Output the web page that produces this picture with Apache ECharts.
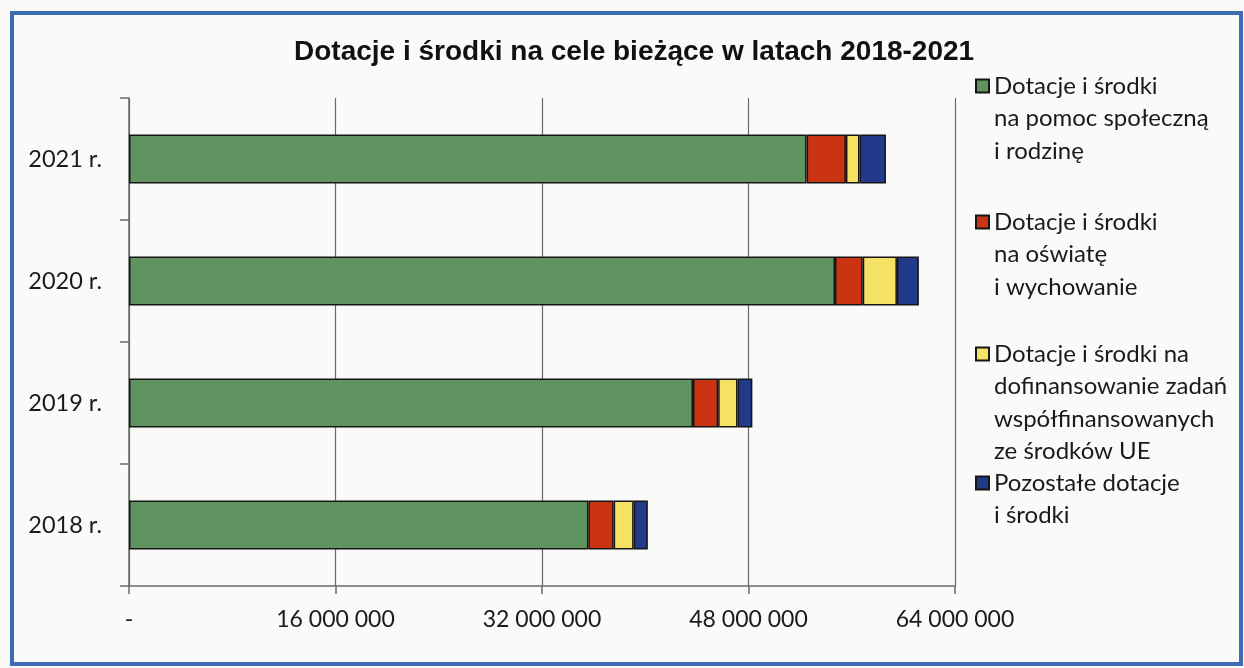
<!DOCTYPE html>
<html>
<head>
<meta charset="utf-8">
<script src="https://cdn.jsdelivr.net/npm/echarts@6/dist/echarts.min.js"></script>
<style>
html,body{margin:0;padding:0;background:#fafaf8;}
#c{width:1244px;height:668px;}
</style>
</head>
<body>
<div id="c"></div>
<script>
const titleText = 'Dotacje i środki na cele bieżące w latach 2018-2021';
const categories = ['2018 r.', '2019 r.', '2020 r.', '2021 r.'];
const seriesNames = [
  'Dotacje i środki\nna pomoc społeczną\ni rodzinę',
  'Dotacje i środki\nna oświatę\ni wychowanie',
  'Dotacje i środki na\ndofinansowanie zadań\nwspółfinansowanych\nze środków UE',
  'Pozostałe dotacje\ni środki'
];
const pomocSpoleczna = [35600000, 43700000, 54700000, 52500000];
const oswiata = [1950000, 1950000, 2150000, 3050000];
const dofinansowanieUE = [1550000, 1500000, 2650000, 1050000];
const pozostale = [1100000, 1150000, 1700000, 2050000];
const xTicks = { min: 0, max: 64000000, interval: 16000000 };
const colors = ['#5f9460', '#cb3412', '#f5e264', '#213a8a'];

const seriesData = [pomocSpoleczna, oswiata, dofinansowanieUE, pozostale];
const LH = 32.5;
const iconCenters = [86, 222, 354, 483];

const fmt = v => v === 0 ? '-' : String(v).replace(/\B(?=(\d{3})+(?!\d))/g, ' ');

const legends = seriesNames.map((name, i) => {
  const n = name.split('\n').length;
  return {
    data: [name],
    orient: 'vertical',
    left: 975,
    top: iconCenters[i] - (2 * n - 1) * LH / 2,
    padding: 0,
    itemWidth: 13,
    itemHeight: 13,
    itemGap: 0,
    icon: 'rect',
    selectedMode: false,
    formatter: nm => '\n'.repeat(n - 1) + nm,
    textStyle: {
      fontFamily: 'Lato',
      fontSize: 24,
      color: '#1a1a1a',
      lineHeight: LH
    }
  };
});

const chart = echarts.init(document.getElementById('c'));
chart.setOption({
  backgroundColor: '#fafaf8',
  animation: false,
  color: colors,
  title: {
    text: titleText,
    left: 294,
    top: 38,
    padding: 0,
    textStyle: { fontFamily: 'Liberation Sans', fontWeight: 'bold', fontSize: 28, color: '#111' }
  },
  legend: legends,
  grid: { left: 129, right: 289, top: 98, bottom: 82, containLabel: false },
  xAxis: {
    type: 'value',
    min: xTicks.min,
    max: xTicks.max,
    interval: xTicks.interval,
    axisLine: { show: true, lineStyle: { color: '#6a6a6a', width: 1.5 } },
    axisTick: { show: true, length: 8, lineStyle: { color: '#6a6a6a', width: 1.5 } },
    splitLine: { show: true, lineStyle: { color: '#6a6a6a', width: 1.2 } },
    axisLabel: { formatter: fmt, fontFamily: 'Lato', fontSize: 23, color: '#1a1a1a', margin: 22 }
  },
  yAxis: {
    type: 'category',
    data: categories,
    axisLine: { show: true, lineStyle: { color: '#6a6a6a', width: 1.5 } },
    axisTick: { show: true, length: 9, lineStyle: { color: '#6a6a6a', width: 1.5 } },
    axisLabel: { fontFamily: 'Lato', fontSize: 23.5, color: '#1a1a1a', margin: 27 }
  },
  series: seriesData.map((d, i) => ({
    type: 'bar',
    name: seriesNames[i],
    stack: 'total',
    barWidth: '40%',
    data: d,
    itemStyle: { borderColor: '#151515', borderWidth: 1.5 }
  })),
  graphic: [{
    type: 'rect',
    silent: true,
    shape: { x: 12, y: 13, width: 1229, height: 651 },
    style: { fill: 'none', stroke: '#3d6db0', lineWidth: 4 }
  }]
});
</script>
</body>
</html>
